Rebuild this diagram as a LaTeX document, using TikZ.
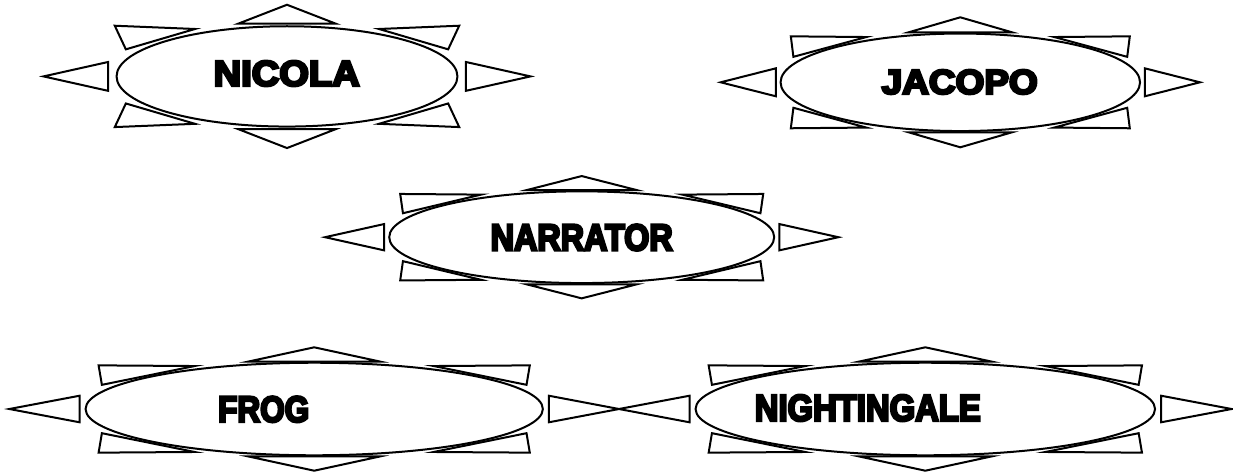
\documentclass[tikz,border=0pt]{standalone}
\usepackage{fontspec}
\usetikzlibrary{shapes.geometric}
\newfontfamily\labfont[FakeBold=7]{Liberation Sans Bold}
% #1 name, #2 cx, #3 cy, #4 W, #5 H, #6 adjust
\newcommand\sunshape[6]{%
  \pgfmathsetmacro\gz{0.5-#6}%
  \pgfmathsetmacro\ga{\gz*0.92388}%
  \pgfmathsetmacro\gb{\gz*0.38268}%
  \pgfmathsetmacro\gten{0.75*(0.5-\ga)}%
  \pgfmathsetmacro\gele{0.75*(0.5-\gb)}%
  \pgfmathsetmacro\gtw{\gten+0.03662}%
  \pgfmathsetmacro\gth{\gele+0.03662}%
  \pgfmathsetmacro\gfo{\gele+0.125}%
  \pgfmathsetmacro\ew{2*\gz*#4}%
  \pgfmathsetmacro\eh{2*\gz*#5}%
  \begin{scope}[shift={(#2-#4/2,#3-#5/2)},x=#4pt,y=-#5pt]
    \draw[ray] (1,0.5) -- (1-\gten,1-\gfo) -- (1-\gten,\gfo) -- cycle;
    \draw[ray] (0,0.5) -- (\gten,\gfo) -- (\gten,1-\gfo) -- cycle;
    \draw[ray] (0.5,0) -- (1-\gfo,\gten) -- (\gfo,\gten) -- cycle;
    \draw[ray] (0.5,1) -- (\gfo,1-\gten) -- (1-\gfo,1-\gten) -- cycle;
    \draw[ray] (0.1464,0.1464) -- (\gth,\gtw) -- (\gtw,\gth) -- cycle;
    \draw[ray] (0.8536,0.1464) -- (1-\gth,\gtw) -- (1-\gtw,\gth) -- cycle;
    \draw[ray] (0.1464,0.8536) -- (\gth,1-\gtw) -- (\gtw,1-\gth) -- cycle;
    \draw[ray] (0.8536,0.8536) -- (1-\gth,1-\gtw) -- (1-\gtw,1-\gth) -- cycle;
    \node[oval, minimum width=\ew pt, minimum height=\eh pt] (#1) at (0.5,0.5) {};
  \end{scope}}
\tikzset{
  ray/.style={draw=black, line width=2pt, line join=miter},
  oval/.style={ellipse, draw=black, line width=2pt, inner sep=0pt},
  lab/.style={inner sep=0pt, anchor=center, font=\labfont}
}
\begin{document}
\begin{tikzpicture}[x=1pt,y=-1pt]
\useasboundingbox (0,0) rectangle (1233,472);
\sunshape{nicola}{287}{76.4}{487}{143.3}{0.15}
\sunshape{jacopo}{960.3}{82.3}{479.3}{130}{0.125}
\sunshape{narrator}{581.7}{237.2}{513.3}{122.3}{0.125}
\sunshape{frog}{314.2}{409}{609.7}{123.4}{0.125}
\sunshape{nightingale}{925.3}{409}{612.7}{123.4}{0.125}
\node[lab] (tnicola) at (286.7,73.5) {\resizebox{146pt}{25pt}{NICOLA}};
\node[lab] (tjacopo) at (959.7,82) {\resizebox{156pt}{24pt}{JACOPO}};
\node[lab] (tnarrator) at (581.7,237.5) {\resizebox{182pt}{26pt}{NARRATOR}};
\node[lab] (tfrog) at (263.7,409.3) {\resizebox{91pt}{25.5pt}{FROG}};
\node[lab] (tnightingale) at (867.8,408) {\resizebox{226pt}{26pt}{NIGHTINGALE}};
\end{tikzpicture}
\end{document}
